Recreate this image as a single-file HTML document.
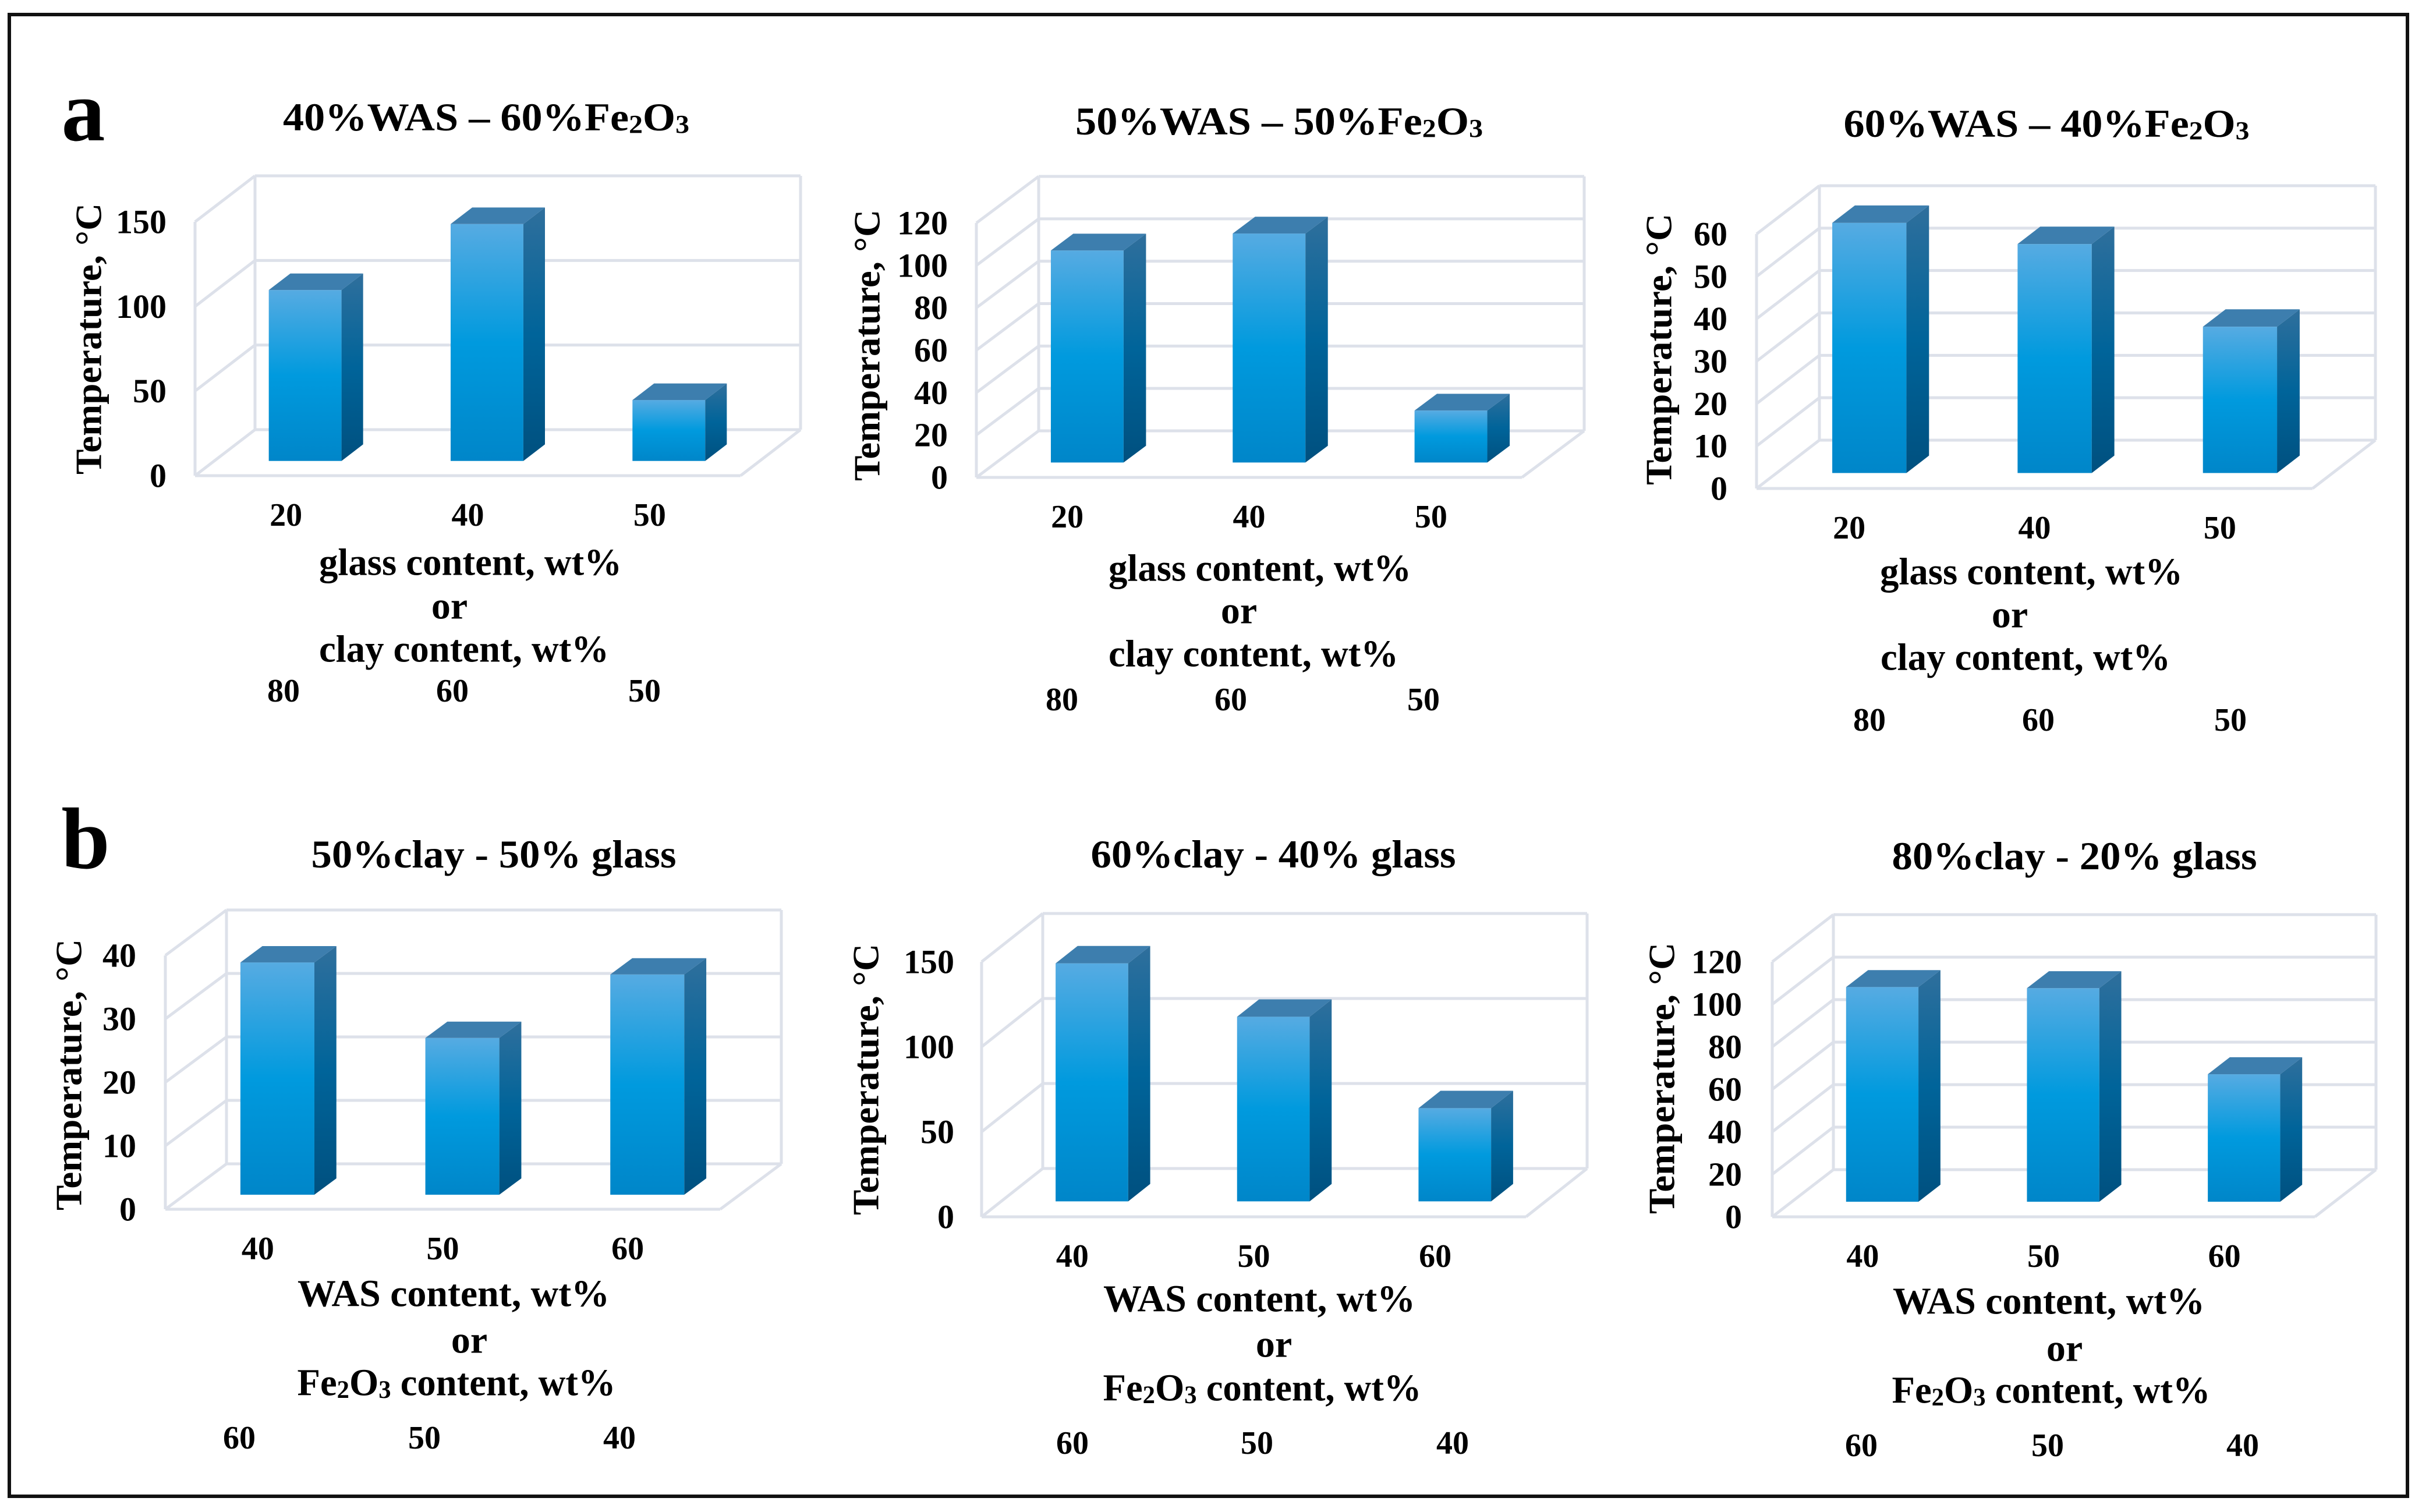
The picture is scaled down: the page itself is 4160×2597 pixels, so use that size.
<!DOCTYPE html>
<html>
<head>
<meta charset="utf-8">
<style>
  html,body{margin:0;padding:0;background:#fff;}
  svg{display:block;}
  text{font-family:"Liberation Serif","Times New Roman",serif;font-weight:bold;fill:#000;}
</style>
</head>
<body>
<svg id="fig" width="4160" height="2597" viewBox="0 0 4160 2597" xmlns="http://www.w3.org/2000/svg">
  <defs>
    <linearGradient id="gFront" x1="0" y1="0" x2="0" y2="1">
      <stop offset="0" stop-color="#56abe2"/>
      <stop offset="0.5" stop-color="#009ade"/>
      <stop offset="1" stop-color="#0086c9"/>
    </linearGradient>
    <linearGradient id="gSide" x1="0" y1="0" x2="0" y2="1">
      <stop offset="0" stop-color="#2f6f9c"/>
      <stop offset="0.5" stop-color="#00649a"/>
      <stop offset="1" stop-color="#00507f"/>
    </linearGradient>
  </defs>
  <rect x="16" y="25" width="4119" height="2545" fill="#fff" stroke="#111" stroke-width="6"/>
  <text x="143" y="191" font-size="150" text-anchor="middle" dominant-baseline="central">a</text>
  <text x="147" y="1441" font-size="150" text-anchor="middle" dominant-baseline="central">b</text>
</svg>
<script>
// ---- data ----
const catsA = ['20', '40', '50'];
const cats2A = ['80', '60', '50'];
const catsB = ['40', '50', '60'];
const cats2B = ['60', '50', '40'];
const valuesA1 = [101, 140, 36];
const valuesA2 = [100, 108, 24.5];
const valuesA3 = [59, 54, 34.5];
const valuesB1 = [36.6, 24.7, 34.7];
const valuesB2 = [140, 108.6, 54.8];
const valuesB3 = [101, 100.5, 60];
const ticksA1 = [0, 50, 100, 150];
const ticksA2 = [0, 20, 40, 60, 80, 100, 120];
const ticksA3 = [0, 10, 20, 30, 40, 50, 60];
const ticksB1 = [0, 10, 20, 30, 40];
const ticksB2 = [0, 50, 100, 150];
const ticksB3 = [0, 20, 40, 60, 80, 100, 120];
const titlesA = ['40%WAS – 60%Fe_2O_3', '50%WAS – 50%Fe_2O_3', '60%WAS – 40%Fe_2O_3'];
const titlesB = ['50%clay - 50% glass', '60%clay - 40% glass', '80%clay - 20% glass'];
const xTitleA = ['glass content, wt%', 'or', 'clay content, wt%'];
const xTitleB = ['WAS content, wt%', 'or', 'Fe_2O_3 content, wt%'];

// ---- layout (pixels, not data) ----
const charts = [
  {id:'a1', vals:valuesA1, ticks:ticksA1, cats:catsA, cats2:cats2A, title:titlesA[0], xt:xTitleA, titleW:698, xtW:[520,0,498],
   fx:335, fy:817, fw:937, dx:103, dy:-79, ph:436, tr:286, yt:[152,582], tp:[835,201], xl:[[808,966],[772,1041],[797,1115]], r2y:1187, r2x:[487,777,1107]},
  {id:'a2', vals:valuesA2, ticks:ticksA2, cats:catsA, cats2:cats2A, title:titlesA[1], xt:xTitleA, titleW:700, xtW:[520,0,498],
   fx:1677, fy:820, fw:937, dx:107, dy:-80, ph:437, tr:1628, yt:[1489,593], tp:[2197,208], xl:[[2164,976],[2128,1049],[2153,1123]], r2y:1202, r2x:[1824,2114,2445]},
  {id:'a3', vals:valuesA3, ticks:ticksA3, cats:catsA, cats2:cats2A, title:titlesA[2], xt:xTitleA, titleW:697, xtW:[520,0,498],
   fx:3017, fy:839, fw:955, dx:108, dy:-83, ph:437, tr:2967, yt:[2849,600], tp:[3515,212], xl:[[3489,982],[3452,1056],[3479,1129]], r2y:1237, r2x:[3211,3501,3831]},
  {id:'b1', vals:valuesB1, ticks:ticksB1, cats:catsB, cats2:cats2B, title:titlesB[0], xt:xTitleB, titleW:627, xtW:[536,0,547],
   fx:284, fy:2077, fw:953, dx:105, dy:-78, ph:436, tr:234, yt:[118,1846], tp:[848,1467], xl:[[779,2222],[806,2302],[784,2375]], r2y:2470, r2x:[411,729,1064]},
  {id:'b2', vals:valuesB2, ticks:ticksB2, cats:catsB, cats2:cats2B, title:titlesB[1], xt:xTitleB, titleW:627, xtW:[536,0,547],
   fx:1686, fy:2090, fw:935, dx:105, dy:-83, ph:438, tr:1639, yt:[1487,1854], tp:[2187,1467], xl:[[2163,2231],[2188,2309],[2168,2384]], r2y:2479, r2x:[1842,2159,2495]},
  {id:'b3', vals:valuesB3, ticks:ticksB3, cats:catsB, cats2:cats2B, title:titlesB[2], xt:xTitleB, titleW:627, xtW:[536,0,547],
   fx:3044, fy:2090, fw:932, dx:105, dy:-81, ph:438, tr:2992, yt:[2854,1852], tp:[3563,1470], xl:[[3519,2235],[3546,2316],[3523,2388]], r2y:2483, r2x:[3197,3517,3852]}
];

const NS = 'http://www.w3.org/2000/svg';
const svg = document.getElementById('fig');
const GRID = '#dde1ea';

function mk(tag, attrs, parent) {
  const el = document.createElementNS(NS, tag);
  for (const k in attrs) el.setAttribute(k, attrs[k]);
  (parent || svg).appendChild(el);
  return el;
}

function richText(parent, str, x, y, size, width) {
  const t = mk('text', {x:x, y:y, 'font-size':size, 'text-anchor':'middle', 'dominant-baseline':'central'}, parent);
  if (width) { t.setAttribute('textLength', width); t.setAttribute('lengthAdjust', 'spacingAndGlyphs'); }
  const parts = str.split(/(_\d)/);
  parts.forEach(p => {
    if (!p) return;
    if (p[0] === '_') {
      const s = document.createElementNS(NS, 'tspan');
      s.setAttribute('font-size', size * 0.66);
      s.setAttribute('dy', size * 0.18);
      s.textContent = p.slice(1);
      t.appendChild(s);
      const r = document.createElementNS(NS, 'tspan');
      r.setAttribute('dy', -size * 0.18);
      r.textContent = '\u200B';
      t.appendChild(r);
    } else {
      t.appendChild(document.createTextNode(p));
    }
  });
  return t;
}

charts.forEach(c => {
  const g = mk('g', {});
  
  
  const maxV = c.ticks[c.ticks.length - 1];
  const yFront = v => c.fy - v / maxV * c.ph;
  const catW = c.fw / c.cats.length;
  const catX = i => c.fx + catW * (i + 0.5);

  const grid = mk('g', {stroke:GRID, 'stroke-width':5, fill:'none'}, g);
  
  
  c.ticks.forEach(v => {
    const yf = yFront(v);
    const yb = yf + c.dy;
    const back = mk('line', {x1:c.fx + c.dx, y1:yb, x2:c.fx + c.fw + c.dx, y2:yb}, grid);
    
    
    const side = mk('line', {x1:c.fx, y1:yf, x2:c.fx + c.dx, y2:yb}, grid);
    
    
  });
  const top = yFront(maxV);
  mk('line', {x1:c.fx, y1:c.fy, x2:c.fx, y2:top}, grid);
  mk('line', {x1:c.fx + c.dx, y1:c.fy + c.dy, x2:c.fx + c.dx, y2:top + c.dy}, grid);
  mk('line', {x1:c.fx + c.fw + c.dx, y1:c.fy + c.dy, x2:c.fx + c.fw + c.dx, y2:top + c.dy}, grid);
  mk('line', {x1:c.fx, y1:c.fy, x2:c.fx + c.fw, y2:c.fy}, grid);
  mk('line', {x1:c.fx + c.fw, y1:c.fy, x2:c.fx + c.fw + c.dx, y2:c.fy + c.dy}, grid);

  const d0 = 0.32, d1 = 0.68;
  c.vals.forEach((v, i) => {
    const bw = catW * 0.4;
    const x0 = catX(i) - bw / 2 + d0 * c.dx;
    const yb = c.fy + d0 * c.dy;
    const yt = yb - v / maxV * c.ph;
    const ddx = (d1 - d0) * c.dx, ddy = (d1 - d0) * c.dy;
    const bg = mk('g', {}, g);
    
    
    mk('rect', {x:x0, y:yt, width:bw, height:yb - yt, fill:'url(#gFront)'}, bg);
    mk('polygon', {points:`${x0+bw},${yt} ${x0+bw+ddx},${yt+ddy} ${x0+bw+ddx},${yb+ddy} ${x0+bw},${yb}`, fill:'url(#gSide)'}, bg);
    mk('polygon', {points:`${x0},${yt} ${x0+ddx},${yt+ddy} ${x0+bw+ddx},${yt+ddy} ${x0+bw},${yt}`, fill:'#3d7eae'}, bg);
  });

  c.ticks.forEach(v => {
    const t = mk('text', {x:c.tr, y:yFront(v), 'font-size':58, 'text-anchor':'end', 'dominant-baseline':'central'}, g);
    
    
    t.textContent = v;
  });

  const yt = mk('text', {x:0, y:0, 'font-size':64, 'text-anchor':'middle', 'dominant-baseline':'central', transform:`translate(${c.yt[0]},${c.yt[1]}) rotate(-90)`, textLength:466, lengthAdjust:'spacingAndGlyphs'}, g);
  
  
  yt.textContent = 'Temperature, \u00B0C';

  c.cats.forEach((s, i) => {
    const t = mk('text', {x:catX(i), y:c.fy + 68, 'font-size':56, 'text-anchor':'middle', 'dominant-baseline':'central'}, g);
    
    
    t.textContent = s;
  });
  c.cats2.forEach((s, i) => {
    const t = mk('text', {x:c.r2x[i], y:c.r2y, 'font-size':56, 'text-anchor':'middle', 'dominant-baseline':'central'}, g);
    
    
    t.textContent = s;
  });

  c.xt.forEach((s, i) => {
    const t = richText(g, s, c.xl[i][0], c.xl[i][1], 66, c.xtW[i] || null);
    
    
  });

  const tt = richText(g, c.title, c.tp[0], c.tp[1], 68, c.titleW);
  
  
});
</script>
</body>
</html>
